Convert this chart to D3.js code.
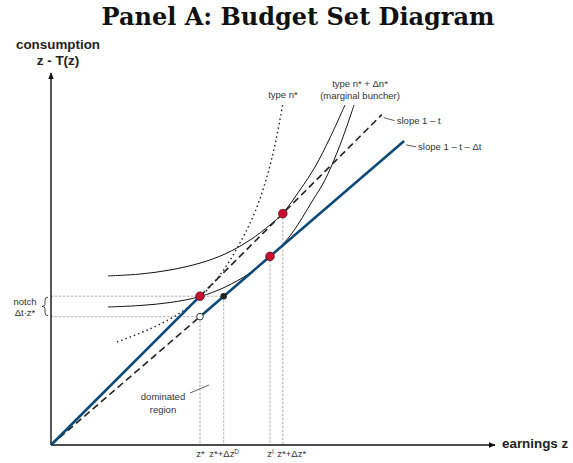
<!DOCTYPE html>
<html>
<head>
<meta charset="utf-8">
<script src="https://cdn.jsdelivr.net/npm/d3@7"></script>
<style>
  body { margin: 0; background: #fff; }
  svg { display: block; }
  .lbl { font-family: 'Liberation Sans', Arial, sans-serif; font-size: 9.5px; fill: #333; }
</style>
</head>
<body>
<svg id="chart" width="573" height="463"></svg>
<script>
// MARK: Data (earnings z on x, consumption z - T(z) on y).

const budgetPre  = [[0, 0], [100, 80]]            // slope 1 - t
const budgetPost = [[100, 69], [237, 163.5]]      // slope 1 - t - Δt
const dashLow    = [[0, 0], [100, 69]]
const dashHigh   = [[100, 80], [222, 177.6]]

const redDots   = [[100, 80], [147, 101.4], [155.6, 124.4]]
const blackDots = [[115.9, 80]]
const openDots  = [[100, 69]]

const tickValues = [100, 115.9, 147, 155.6]
const tickLabels = [['z*', ''], ['z*+Δz', 'D'], ['z', 'I'], ['z*+Δz*', '']]

// indifference curves
const curveUpper = [[38.3, 90.9], [59.7, 91.9], [79.9, 94.1], [100, 97.8], [116.8, 102.7],
  [133.6, 110.2], [147, 118.3], [155.7, 124.7], [167.1, 137.1], [177.2, 149.5], [187.2, 165.1], [197.3, 182.8]]
const curveLower = [[38.3, 74.2], [59.7, 75], [79.9, 76.6], [100, 79.8], [116.8, 84.9],
  [133.6, 92.5], [147, 101.1], [160.4, 112.4], [175.8, 131.7], [183.9, 142.5], [194, 161.3], [203.4, 182.8]]
const curveTypeN = [[44.3, 55.4], [66.4, 62.4], [86.6, 71], [100, 79.6], [113.4, 91.4],
  [126.8, 108.6], [136.9, 125.3], [144.3, 142.5], [150.3, 161.3], [155.7, 183.9]]

// MARK: Setup.

const BLUE = '#0d4a78'
const RED  = '#c8102e'

const svg = d3.select('#chart')
const x = d3.scaleLinear().domain([0, 298]).range([51, 495])
const y = d3.scaleLinear().domain([0, 200]).range([445, 73])
const line = d3.line().x((d) => x(d[0])).y((d) => y(d[1]))
const smooth = d3.line().x((d) => x(d[0])).y((d) => y(d[1])).curve(d3.curveCatmullRom)

svg.append('defs').append('marker')
  .attr('id', 'arrow')
  .attr('viewBox', '0 0 10 10')
  .attr('refX', 9).attr('refY', 5)
  .attr('markerWidth', 5).attr('markerHeight', 5)
  .attr('markerUnits', 'strokeWidth')
  .attr('orient', 'auto')
  .append('path')
  .attr('d', 'M0,1 L10,5 L0,9 z')
  .attr('fill', '#111')

// title
svg.append('text')
  .attr('x', 298).attr('y', 25)
  .attr('text-anchor', 'middle')
  .attr('font-family', "'DejaVu Serif', serif")
  .attr('font-weight', 'bold')
  .attr('font-size', 24)
  .attr('fill', '#111')
  .text('Panel A: Budget Set Diagram')

// MARK: Guide lines.

const guides = svg.append('g')
  .attr('stroke', '#999').attr('stroke-width', 0.8).attr('stroke-dasharray', '2.5,1.5').attr('fill', 'none')
guides.append('line').attr('x1', x(0)).attr('x2', x(blackDots[0][0])).attr('y1', y(80)).attr('y2', y(80))
guides.append('line').attr('x1', x(0)).attr('x2', x(openDots[0][0])).attr('y1', y(69)).attr('y2', y(69))
const verticals = [[100, 69], [115.9, 80], [147, 101.4], [155.6, 124.4]]
guides.selectAll('.v').data(verticals).enter().append('line')
  .attr('x1', (d) => x(d[0])).attr('x2', (d) => x(d[0]))
  .attr('y1', (d) => y(d[1])).attr('y2', y(0))

// MARK: Axes.

svg.append('line')
  .attr('x1', x(0)).attr('y1', y(0)).attr('x2', x(0)).attr('y2', y(200))
  .attr('stroke', '#111').attr('stroke-width', 1.4).attr('marker-end', 'url(#arrow)')
svg.append('line')
  .attr('x1', x(0)).attr('y1', y(0)).attr('x2', x(298)).attr('y2', y(0))
  .attr('stroke', '#111').attr('stroke-width', 1.4).attr('marker-end', 'url(#arrow)')

const xAxis = svg.append('g')
  .attr('transform', `translate(0,${y(0)})`)
  .call(d3.axisBottom(x).tickValues(tickValues).tickSize(0).tickPadding(5).tickFormat(''))
xAxis.select('.domain').remove()
xAxis.selectAll('.tick text')
  .attr('class', 'lbl')
  .attr('font-family', null).attr('font-size', null)
  .each(function (d, i) {
    const t = d3.select(this)
    t.append('tspan').text(tickLabels[i][0])
    if (tickLabels[i][1]) t.append('tspan').attr('dy', -3).attr('font-size', 6.5).text(tickLabels[i][1])
  })
// the last label sits right of its line, as in the original
xAxis.selectAll('.tick text').filter((d, i) => i === tickValues.length - 1)
  .attr('text-anchor', 'start').attr('x', -6)

const axisFont = "'Liberation Sans', Arial, sans-serif"
svg.append('text')
  .attr('x', 58).attr('y', 49)
  .attr('text-anchor', 'middle')
  .attr('font-family', axisFont)
  .attr('font-weight', 'bold').attr('font-size', 13.4).attr('fill', '#222')
  .text('consumption')
svg.append('text')
  .attr('x', 58).attr('y', 65)
  .attr('text-anchor', 'middle')
  .attr('font-family', axisFont)
  .attr('font-weight', 'bold').attr('font-size', 13.4).attr('fill', '#222')
  .text('z - T(z)')
svg.append('text')
  .attr('x', 502).attr('y', 448)
  .attr('font-family', axisFont)
  .attr('font-weight', 'bold').attr('font-size', 13.4).attr('fill', '#222')
  .text('earnings z')

// MARK: Curves and budget lines.

svg.append('path').datum(curveTypeN)
  .attr('d', smooth).attr('fill', 'none')
  .attr('stroke', '#222').attr('stroke-width', 1.4).attr('stroke-dasharray', '1.5,3')
svg.append('path').datum(curveUpper)
  .attr('d', smooth).attr('fill', 'none').attr('stroke', '#111').attr('stroke-width', 1)
svg.append('path').datum(curveLower)
  .attr('d', smooth).attr('fill', 'none').attr('stroke', '#111').attr('stroke-width', 1)

const dashed = svg.append('g')
  .attr('fill', 'none').attr('stroke', '#222').attr('stroke-width', 1.6).attr('stroke-dasharray', '7,4')
dashed.append('path').datum(dashLow).attr('d', line)
dashed.append('path').datum(dashHigh).attr('d', line)

const blue = svg.append('g')
  .attr('fill', 'none').attr('stroke', BLUE).attr('stroke-width', 2.6)
blue.append('path').datum(budgetPre).attr('d', line)
blue.append('path').datum(budgetPost).attr('d', line)

// MARK: Points.

svg.selectAll('.red').data(redDots).enter().append('circle')
  .attr('cx', (d) => x(d[0])).attr('cy', (d) => y(d[1])).attr('r', 4.3)
  .attr('fill', RED).attr('stroke', '#5a0a14').attr('stroke-width', 0.8)
svg.selectAll('.black').data(blackDots).enter().append('circle')
  .attr('cx', (d) => x(d[0])).attr('cy', (d) => y(d[1])).attr('r', 3.2)
  .attr('fill', '#222')
svg.selectAll('.open').data(openDots).enter().append('circle')
  .attr('cx', (d) => x(d[0])).attr('cy', (d) => y(d[1])).attr('r', 3.3)
  .attr('fill', '#fff').attr('stroke', '#222').attr('stroke-width', 0.9)

// MARK: Annotations.

const notes = svg.append('g')
const note = (tx, ty, str, anchor = 'start') =>
  notes.append('text').attr('class', 'lbl').attr('x', tx).attr('y', ty).attr('text-anchor', anchor).text(str)

note(25, 305, 'notch', 'middle')
note(25, 316, 'Δt·z*', 'middle')
const by0 = y(80) + 1, by1 = y(69) - 1, bm = (by0 + by1) / 2
notes.append('path')
  .attr('d', `M48,${by0} q-3,0 -3,3 V${bm - 2} q0,2 -3,2 q3,0 3,2 V${by1 - 3} q0,3 3,3`)
  .attr('fill', 'none').attr('stroke', '#333').attr('stroke-width', 0.9)

note(163, 400, 'dominated', 'middle')
note(163, 413, 'region', 'middle')
notes.append('line').attr('x1', 190).attr('y1', 393).attr('x2', 209).attr('y2', 385)
  .attr('stroke', '#333').attr('stroke-width', 0.8)

note(x(155.7), 98, 'type n*', 'middle')
note(360, 87, 'type n* + Δn*', 'middle')
note(360, 99, '(marginal buncher)', 'middle')

const d1 = dashHigh[1], b1 = budgetPost[1]
notes.append('line').attr('x1', x(d1[0]) + 2).attr('y1', y(d1[1]) + 3).attr('x2', x(d1[0]) + 13).attr('y2', y(d1[1]) + 6)
  .attr('stroke', '#333').attr('stroke-width', 0.8)
note(x(d1[0]) + 15, y(d1[1]) + 9, 'slope 1 – t')
notes.append('line').attr('x1', x(b1[0]) + 2).attr('y1', y(b1[1]) + 4).attr('x2', x(b1[0]) + 12).attr('y2', y(b1[1]) + 6)
  .attr('stroke', '#333').attr('stroke-width', 0.8)
note(x(b1[0]) + 14, y(b1[1]) + 9, 'slope 1 – t – Δt')
</script>
</body>
</html>
